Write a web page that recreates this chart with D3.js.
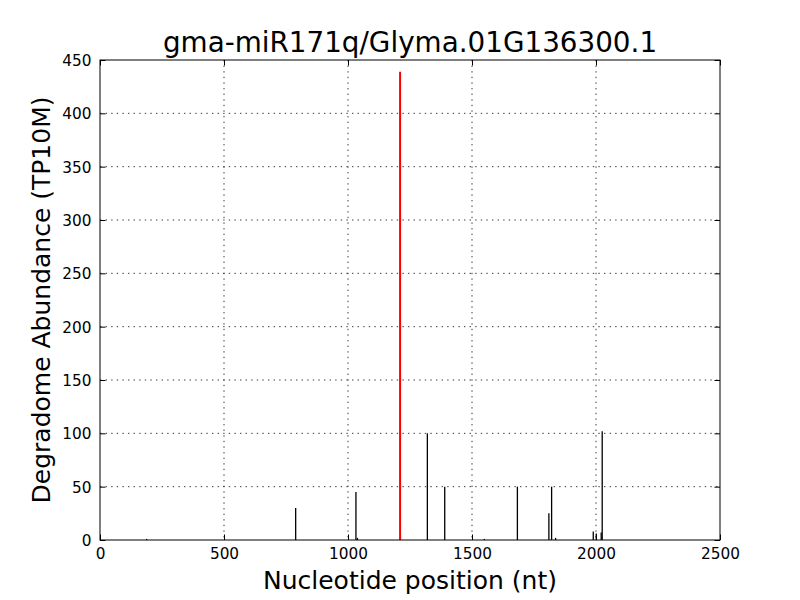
<!DOCTYPE html>
<html>
<head>
<meta charset="utf-8">
<script src="https://cdn.jsdelivr.net/npm/d3@7"></script>
<style>
  html, body { margin: 0; padding: 0; background: #fff; }
  svg { display: block; font-family: "DejaVu Sans", sans-serif; }
</style>
</head>
<body>
<svg id="chart" width="800" height="600"></svg>
<script>
const title = "gma-miR171q/Glyma.01G136300.1";
const xLabel = "Nucleotide position (nt)";
const yLabel = "Degradome Abundance (TP10M)";

const positions = [188, 789, 1032, 1038, 1320, 1390, 1550, 1683, 1810, 1821, 1837, 1989, 2001, 2021, 2025];
const abundances = [1, 30, 45, 2, 100, 50, 1, 50, 25, 50, 2, 8, 6, 7, 102];

const targetPositions = [1210];
const targetAbundances = [439];

const xTicks = [0, 500, 1000, 1500, 2000, 2500];
const yTicks = [0, 50, 100, 150, 200, 250, 300, 350, 400, 450];

const svg = d3.select("#chart");
const L = 100, R = 720, T = 60, B = 540;
const x = d3.scaleLinear().domain([0, 2500]).range([L, R]);
const y = d3.scaleLinear().domain([0, 450]).range([B, T]);

// grid
const grid = svg.append("g");
grid.selectAll(".gx").data(xTicks.slice(1, -1)).enter().append("line")
  .attr("x1", d => x(d)).attr("x2", d => x(d)).attr("y1", T).attr("y2", B)
  .attr("stroke", "#222").attr("stroke-width", 0.9).attr("stroke-dasharray", "1.4,4.2");
grid.selectAll(".gy").data(yTicks.slice(1, -1)).enter().append("line")
  .attr("x1", L).attr("x2", R).attr("y1", d => y(d)).attr("y2", d => y(d))
  .attr("stroke", "#222").attr("stroke-width", 0.9).attr("stroke-dasharray", "1.4,4.2");

// bars (vlines)
const bars = positions.map((p, i) => ({ p, v: abundances[i] }));
svg.append("g").selectAll("line").data(bars).enter().append("line")
  .attr("x1", d => x(d.p)).attr("x2", d => x(d.p))
  .attr("y1", y(0)).attr("y2", d => y(d.v))
  .attr("stroke", "#000").attr("stroke-width", 1.3);

const tbars = targetPositions.map((p, i) => ({ p, v: targetAbundances[i] }));
svg.append("g").selectAll("line").data(tbars).enter().append("line")
  .attr("x1", d => x(d.p)).attr("x2", d => x(d.p))
  .attr("y1", y(0)).attr("y2", d => y(d.v))
  .attr("stroke", "#ff0000").attr("stroke-width", 2);

// axes with inward ticks on all sides
const tickLen = 5.5;
const fmt = d3.format("d");
const axB = svg.append("g").attr("transform", `translate(0,${B})`)
  .call(d3.axisBottom(x).tickValues(xTicks).tickFormat(fmt).tickSizeInner(-tickLen).tickSizeOuter(0).tickPadding(0));
const axT = svg.append("g").attr("transform", `translate(0,${T})`)
  .call(d3.axisTop(x).tickValues(xTicks).tickFormat("").tickSizeInner(-tickLen).tickSizeOuter(0));
const axL = svg.append("g").attr("transform", `translate(${L},0)`)
  .call(d3.axisLeft(y).tickValues(yTicks).tickFormat(fmt).tickSizeInner(-tickLen).tickSizeOuter(0).tickPadding(0));
const axR = svg.append("g").attr("transform", `translate(${R},0)`)
  .call(d3.axisRight(y).tickValues(yTicks).tickFormat("").tickSizeInner(-tickLen).tickSizeOuter(0));

[axB, axT, axL, axR].forEach(a => {
  a.select(".domain").remove();
  a.selectAll(".tick line").attr("stroke", "#000").attr("stroke-width", 1);
});
axB.selectAll(".tick text").attr("y", null).attr("dy", null)
  .attr("transform", "translate(0,19)")
  .attr("font-size", 15.3).attr("font-family", "DejaVu Sans").attr("fill", "#000");
axL.selectAll(".tick text").attr("x", -8.5).attr("dy", "0.36em")
  .attr("font-size", 15.3).attr("font-family", "DejaVu Sans").attr("fill", "#000");

// frame
svg.append("rect").attr("x", L).attr("y", T).attr("width", R - L).attr("height", B - T)
  .attr("fill", "none").attr("stroke", "#000").attr("stroke-width", 1);

// texts
svg.append("text").attr("x", (L + R) / 2).attr("y", 52).attr("text-anchor", "middle")
  .attr("font-size", 27.8).attr("fill", "#000").text(title);
svg.append("text").attr("x", (L + R) / 2).attr("y", 589).attr("text-anchor", "middle")
  .attr("font-size", 25).attr("fill", "#000").text(xLabel);
svg.append("text").attr("transform", `translate(50,${(T + B) / 2}) rotate(-90)`)
  .attr("text-anchor", "middle").attr("font-size", 25).attr("fill", "#000").text(yLabel);
</script>
</body>
</html>
